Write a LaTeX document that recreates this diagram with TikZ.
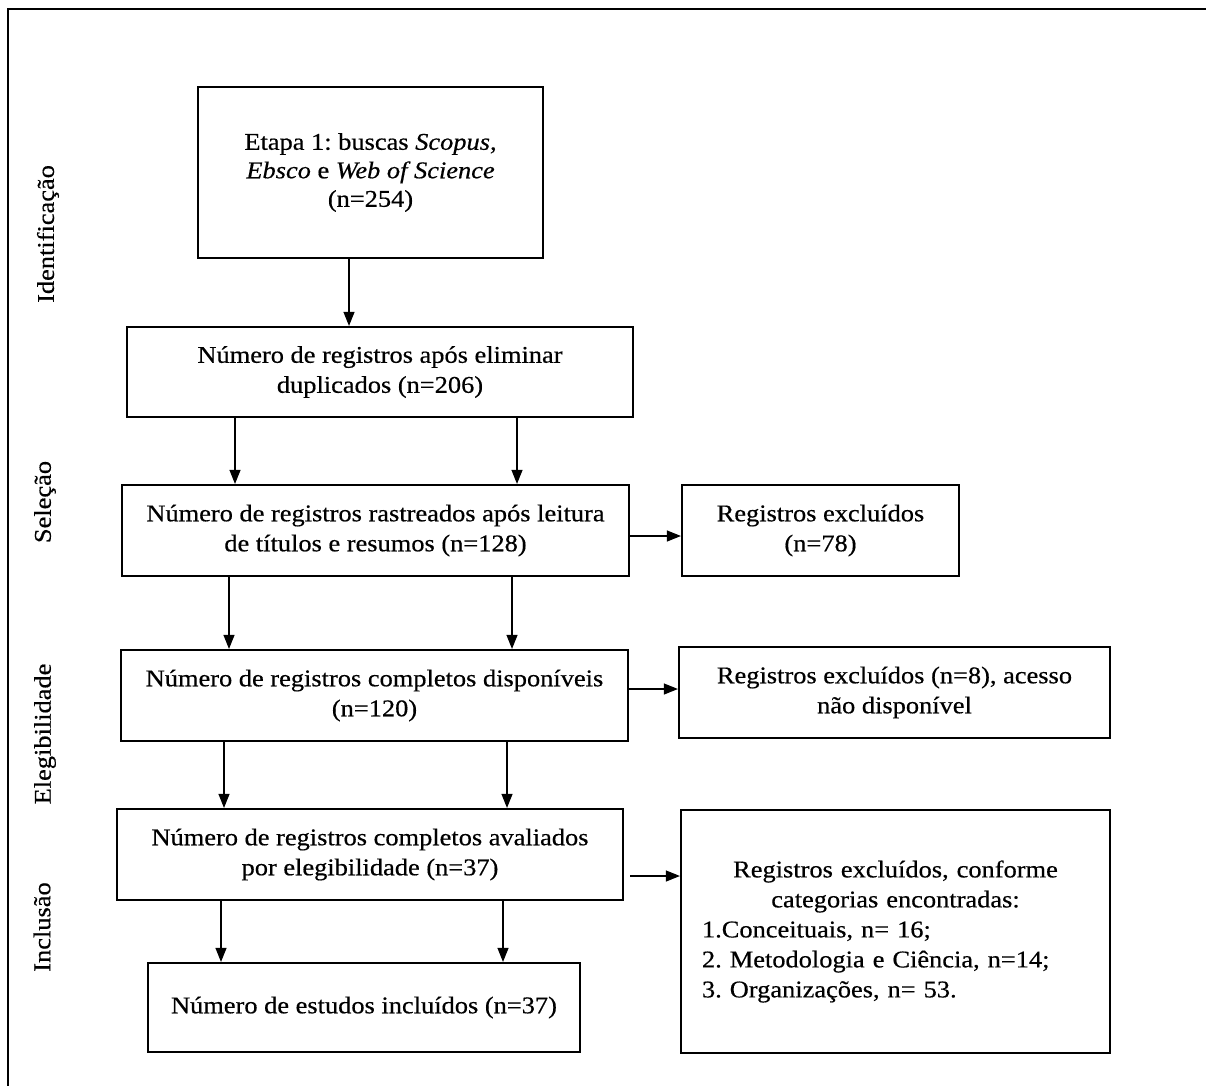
\documentclass[tikz,border=0pt]{standalone}
\usepackage{fontspec}
\setmainfont{Liberation Serif}[FakeStretch=1.1, FakeBold=0.5]
\usetikzlibrary{arrows.meta}
\frenchspacing

\begin{document}
\begin{tikzpicture}[x=1pt, y=-1pt,
	every node/.style={font=\fontsize{24}{30}\selectfont},
	box/.style={draw, line width=2.2pt, align=center, inner sep=0pt},
	arr/.style={-{Triangle[length=14pt,width=11pt]}, line width=1.1pt},
	fase/.style={rotate=90, inner sep=0pt}]
	\useasboundingbox (0,0) rectangle (1206,1086);
	\draw[line width=2.5pt] (1206,9) -- (8,9) -- (8,1086);
	% fases
	\node[fase] (lident) at (48,234) {Identificação};
	\node[fase] (lsel) at (45,502) {Seleção};
	\node[fase] (leleg) at (45,734) {Elegibilidade};
	\node[fase] (lincl) at (42,927) {Inclusão};
	% caixas
	\node[box, minimum width=345, minimum height=171, font=\fontsize{24}{28.5}\selectfont] (busca) at (370.5,172.5)
		{Etapa 1: buscas \textit{Scopus,}\\\textit{Ebsco} e \textit{Web of Science}\\(n=254)};
	\node[box, minimum width=506, minimum height=90] (dupl) at (380,372)
		{Número de registros após eliminar\\duplicados (n=206)};
	\node[box, minimum width=507, minimum height=91] (rastr) at (375.5,530.5)
		{Número de registros rastreados após leitura\\de títulos e resumos (n=128)};
	\node[box, minimum width=277, minimum height=91] (excla) at (820.5,530.5)
		{Registros excluídos\\(n=78)};
	\node[box, minimum width=507, minimum height=91] (disp) at (374.5,695.5)
		{Número de registros completos disponíveis\\(n=120)};
	\node[box, minimum width=431, minimum height=91] (exclb) at (894.5,692.5)
		{Registros excluídos (n=8), acesso\\não disponível};
	\node[box, minimum width=429, minimum height=243, text width=387, align=left] (exclc) at (895.5,931.5)
		{{\centering Registros excluídos, conforme\\categorias encontradas:\par}\raggedright
		1.Conceituais, n= 16;\\2. Metodologia e Ciência, n=14;\\3. Organizações, n= 53.};
	\node[box, minimum width=506, minimum height=91] (aval) at (370,854.5)
		{Número de registros completos avaliados\\por elegibilidade (n=37)};
	\node[box, minimum width=432, minimum height=89] (incl) at (364,1007.5)
		{Número de estudos incluídos (n=37)};
	% setas
	\foreach \a/\b/\dx in {busca/dupl/-21.5, dupl/rastr/-145, dupl/rastr/137,
		rastr/disp/-146.5, rastr/disp/136.5, disp/aval/-150.5, disp/aval/132.5,
		aval/incl/-149, aval/incl/133}
		\draw[arr] ([xshift=\dx]\a.south) -- ([xshift=\dx]\a.south |- \b.north);
	\draw[arr] ([yshift=-5.5]rastr.east) -- ([yshift=-5.5]rastr.east -| excla.west);
	\draw[arr] ([yshift=6.5]disp.east) -- ([yshift=6.5]disp.east -| exclb.west);
	\draw[arr] ([xshift=6,yshift=-21.5]aval.east) -- ([yshift=-21.5]aval.east -| exclc.west);
\end{tikzpicture}
\end{document}
